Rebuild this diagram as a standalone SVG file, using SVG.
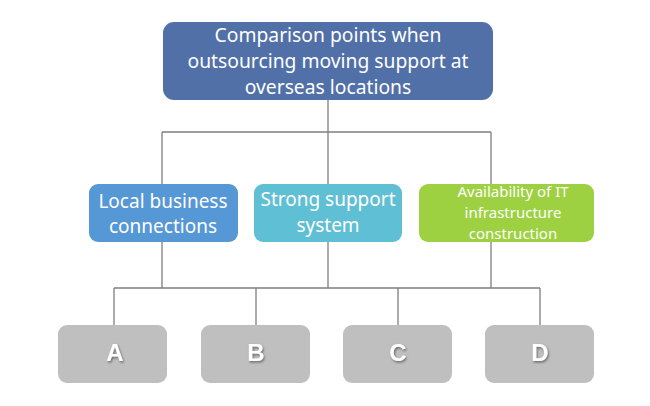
<svg xmlns="http://www.w3.org/2000/svg" width="650" height="406" viewBox="0 0 650 406">
<defs>
<style>
.t{font-family:"Noto Sans","DejaVu Sans",sans-serif;fill:#fff;text-anchor:middle}
.ln{stroke:#7f7f7f;stroke-width:1.3;fill:none}
.g{fill:#bfbfbf}
.L{font-family:"Liberation Sans",Arial,sans-serif;font-weight:bold;font-size:24px;fill:#fff;text-anchor:middle}
</style>
<filter id="sh" x="-50%" y="-50%" width="200%" height="200%">
<feDropShadow dx="1" dy="1.5" stdDeviation="0.8" flood-color="#555" flood-opacity="0.8"/>
</filter>
</defs>
<rect width="650" height="406" fill="#fff"/>
<g id="connectors" class="ln">
<path d="M328 100V132M162 132H491M162 132V184M328 132V184M491 132V184"/>
<path d="M162 242V288M328 242V288M491 242V288M114 288H540M114 288V325M256 288V325M398 288V325M540 288V325"/>
</g>
<g id="top">
<rect x="163" y="22" width="330" height="78" rx="11" fill="#5170a8"/>
<text class="t" font-size="19.3"><tspan x="328" y="42">Comparison points when</tspan><tspan x="328" y="68">outsourcing moving support at</tspan><tspan x="328" y="94">overseas locations</tspan></text>
</g>
<g id="local">
<rect x="89" y="184" width="149" height="58" rx="9" fill="#5697d6"/>
<text class="t" font-size="19"><tspan x="163" y="208">Local business</tspan><tspan x="163" y="233">connections</tspan></text>
</g>
<g id="strong">
<rect x="254" y="184" width="148" height="58" rx="9" fill="#5fbfd4"/>
<text class="t" font-size="19"><tspan x="328" y="206">Strong support</tspan><tspan x="328" y="232">system</tspan></text>
</g>
<g id="avail">
<rect x="419" y="184" width="175" height="58" rx="9" fill="#9ed141"/>
<text class="t" font-size="15"><tspan x="513" y="197">Availability of IT</tspan><tspan x="513" y="218">infrastructure</tspan><tspan x="513" y="239">construction</tspan></text>
</g>
<g id="A"><rect class="g" x="58" y="325" width="109" height="58" rx="9"/><text class="L" x="115" y="361" filter="url(#sh)">A</text></g>
<g id="B"><rect class="g" x="201" y="325" width="109" height="58" rx="9"/><text class="L" x="256" y="361" filter="url(#sh)">B</text></g>
<g id="C"><rect class="g" x="343" y="325" width="109" height="58" rx="9"/><text class="L" x="398" y="361" filter="url(#sh)">C</text></g>
<g id="D"><rect class="g" x="485" y="325" width="109" height="58" rx="9"/><text class="L" x="540" y="361" filter="url(#sh)">D</text></g>
</svg>
